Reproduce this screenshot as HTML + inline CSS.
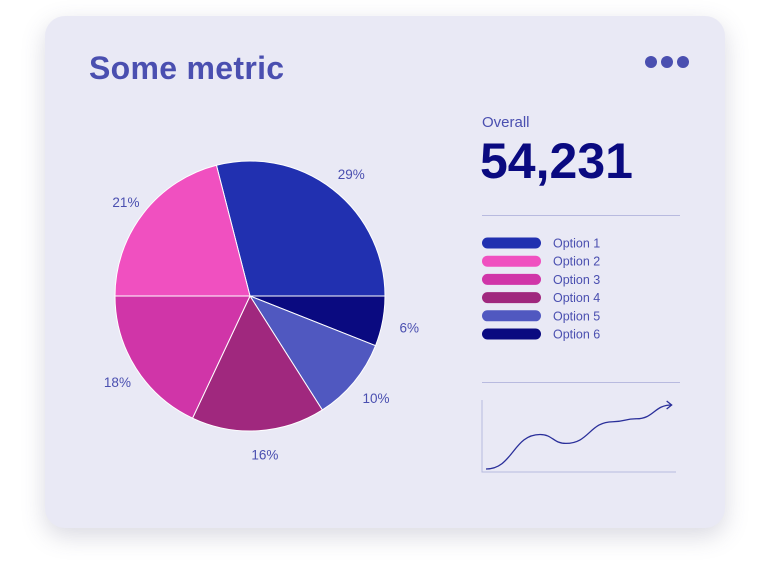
<!DOCTYPE html>
<html><head><meta charset="utf-8"><style>
body{margin:0;width:768px;height:562px;background:#fff;font-family:"Liberation Sans",sans-serif;overflow:hidden;position:relative}
.card{position:absolute;left:45px;top:16px;width:680px;height:512px;border-radius:20px;background:#e9e9f5;box-shadow:0 8px 24px rgba(80,80,120,0.22)}
.t{position:absolute;white-space:nowrap}
</style></head><body>
<div class="card"></div>
<div class="t" style="left:89px;top:50px;font-size:32px;color:#4a4fb0;font-weight:bold;letter-spacing:0.3px">Some metric</div>
<svg style="position:absolute;left:640px;top:55px" width="54" height="16"><circle cx="11" cy="7" r="6" fill="#4a4fb0"/><circle cx="27" cy="7" r="6" fill="#4a4fb0"/><circle cx="43" cy="7" r="6" fill="#4a4fb0"/></svg>
<div class="t" style="left:482px;top:114px;font-size:15px;color:#4a4fb0">Overall</div>
<div class="t" style="left:480px;top:132px;font-size:50px;font-weight:bold;color:#0a0a80">54,231</div>
<div style="position:absolute;left:482px;top:215px;width:198px;height:1px;background:#b8badf"></div>
<div style="position:absolute;left:482px;top:382px;width:198px;height:1px;background:#b8badf"></div>
<svg id="chart" width="768" height="562" style="position:absolute;left:0;top:0"></svg>
<script>
const labels=["Option 1","Option 2","Option 3","Option 4","Option 5","Option 6"];
const colors=["#2130b0","#f050c0","#d035a8","#a0287e","#5058c0","#0a0a80"];
const sliceOrder=[0,5,4,3,2,1];
const values=[29,21,18,16,10,6];
const sparkX=[0,2.3,3.4,5.4,6.4,7.9];
const sparkY=[0,35,26,48,51,65];
const NS="http://www.w3.org/2000/svg";
const svg=document.getElementById('chart');
function mk(t,a){const e=document.createElementNS(NS,t);for(const k in a)e.setAttribute(k,a[k]);svg.appendChild(e);return e;}
const cx=250,cy=296,R=135;
const total=values.reduce((a,b)=>a+b,0);
let ang=-values[0]/total*2*Math.PI;
sliceOrder.forEach(i=>{
 const a0=ang,a1=ang+values[i]/total*2*Math.PI;ang=a1;
 const x0=cx+R*Math.cos(a0),y0=cy+R*Math.sin(a0),x1=cx+R*Math.cos(a1),y1=cy+R*Math.sin(a1);
 const p=mk('path',{d:`M${cx},${cy}L${x0},${y0}A${R},${R} 0 ${a1-a0>Math.PI?1:0} 1 ${x1},${y1}Z`,fill:colors[i],stroke:'#fff','stroke-width':1});
 
 
 const m=(a0+a1)/2,lr=R+22;
 const t=mk('text',{x:cx+lr*Math.cos(m)+(Math.cos(m)>0?5:0),y:cy+lr*Math.sin(m)+7,'text-anchor':'middle','font-size':13.5,fill:'#4a4fb0','font-family':'Liberation Sans, sans-serif'});
 t.textContent=values[i]+'%';
 
 
});
labels.forEach((l,i)=>{
 const y=243+i*18.2;
 const r=mk('rect',{x:482,y:y-5.5,width:59,height:11,rx:5.5,fill:colors[i]});
 
 
 const t=mk('text',{x:553,y:y+4.5,'font-size':12.5,fill:'#4a4fb0','font-family':'Liberation Sans, sans-serif'});
 t.textContent=l;
 
 
});
const ax=mk('path',{d:'M482,400V472H676',fill:'none',stroke:'#b8badf','stroke-width':1});


const sx=v=>486+v*(674-486)/8, sy=v=>469-v*(65/66);
let d=`M${sx(sparkX[0])},${sy(sparkY[0])}`;
for(let i=1;i<sparkX.length;i++){const xa=sx(sparkX[i-1]),xb=sx(sparkX[i]),xm=(xa+xb)/2;d+=`C${xm},${sy(sparkY[i-1])} ${xm},${sy(sparkY[i])} ${xb},${sy(sparkY[i])}`;}
const sl=mk('path',{d:d,fill:'none',stroke:'#2a2f9a','stroke-width':1.3});


const ex=sx(sparkX[sparkX.length-1]),ey=sy(sparkY[sparkY.length-1]);
const ar=mk('path',{d:`M${ex-5},${ey-4}L${ex},${ey}L${ex-5},${ey+4}`,fill:'none',stroke:'#2a2f9a','stroke-width':1.3});


</script>
</body></html>
